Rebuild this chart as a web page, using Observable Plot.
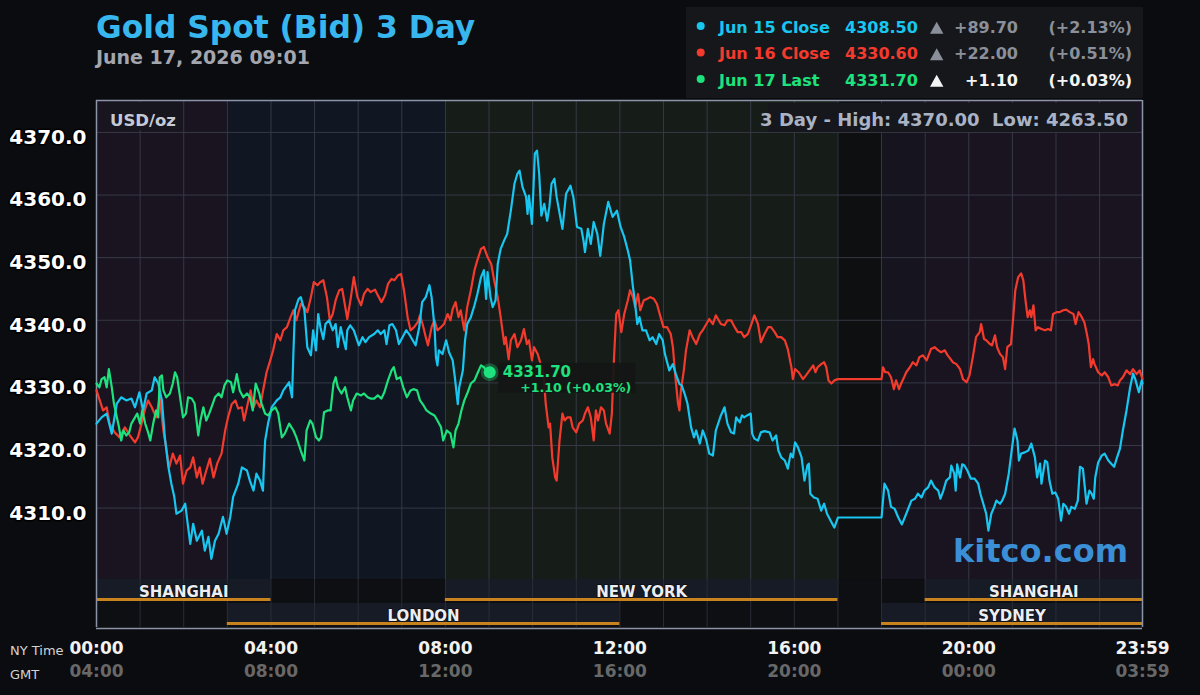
<!DOCTYPE html>
<html><head><meta charset="utf-8">
<script src="https://cdn.jsdelivr.net/npm/d3@7"></script>
<script src="https://cdn.jsdelivr.net/npm/@observablehq/plot@0.6"></script>
<style>
html,body{margin:0;padding:0;background:#0b0c0f;width:1200px;height:695px;overflow:hidden;font-family:"DejaVu Sans",sans-serif;}
#wrap{position:relative;width:1200px;height:695px;}
</style></head>
<body><div id="wrap"></div>
<script>
// ---------- DATA ----------
// [minute of NY day, price]
const jun15 = [[0,4323.5],[7,4324.5],[14,4325.1],[21,4321.9],[28,4326.7],[34,4327.7],[41,4327.2],[48,4327.5],[53,4326.1],[59,4328.5],[64,4325.6],[69,4328.3],[76,4328.8],[80,4330.9],[85,4329.9],[90,4327.2],[94,4321.3],[99,4316.5],[103,4313.9],[107,4311.8],[110,4309.1],[117,4309.6],[122,4310.7],[126,4307.0],[129,4304.3],[133,4307.5],[138,4304.8],[145,4306.4],[149,4303.2],[154,4305.4],[158,4301.9],[163,4304.8],[168,4305.9],[174,4308.6],[179,4305.9],[184,4308.6],[188,4311.8],[195,4313.9],[200,4316.5],[207,4316.0],[211,4314.4],[216,4312.8],[220,4315.5],[225,4314.4],[229,4312.8],[230,4316.0],[232,4320.8],[236,4323.5],[241,4326.1],[248,4327.2],[253,4327.7],[257,4328.8],[262,4329.6],[265,4330.1],[269,4327.7],[271,4335.2],[273,4341.6],[278,4343.4],
[281,4343.7],[286,4341.6],[290,4335.7],[295,4334.4],[298,4338.4],[302,4335.2],[305,4341.0],[308,4338.9],[312,4337.0],[315,4339.4],[320,4340.0],[325,4338.4],[329,4339.4],[332,4335.7],[336,4338.9],[340,4336.8],[343,4335.4],[345,4338.4],[349,4339.2],[354,4338.4],[361,4336.0],[366,4337.3],[370,4336.5],[375,4337.3],[382,4337.8],[387,4338.4],[391,4337.8],[396,4338.4],[399,4336.2],[403,4339.2],[407,4339.4],[412,4338.4],[416,4336.2],[421,4337.3],[426,4338.4],[430,4337.8],[435,4336.8],[439,4336.0],[444,4338.9],[448,4342.9],[453,4343.7],[458,4345.6],[461,4343.7],[465,4338.9],[467,4334.1],[469,4332.8],[471,4335.2],[476,4334.6],[481,4336.8],[485,4334.9],[490,4333.6],[493,4330.9],[497,4326.6],[499,4329.3],[504,4332.0],[507,4336.8],[510,4339.4],[515,4340.5],[520,4342.4],[524,4344.2],[529,4346.9],[533,4348.0],[536,4343.4],[538,4347.7],[542,4343.7],[545,4342.1],[549,4343.2],[552,4349.0],[556,4351.4],[561,4352.8],[565,4353.8],
[570,4357.5],[575,4361.8],[579,4363.4],[582,4363.9],[586,4361.3],[591,4359.7],[593,4357.0],[595,4359.9],[599,4355.4],[601,4360.7],[603,4366.6],[606,4367.1],[609,4363.4],[612,4356.7],[616,4358.6],[620,4355.9],[623,4358.1],[626,4361.8],[630,4362.6],[633,4359.7],[638,4356.5],[641,4354.6],[646,4360.2],[652,4361.5],[656,4359.7],[661,4354.9],[667,4354.6],[670,4352.7],[672,4350.9],[676,4354.6],[680,4352.2],[684,4355.7],[689,4353.8],[693,4350.3],[698,4355.4],[704,4358.9],[710,4356.5],[716,4357.5],[721,4354.9],[726,4353.3],[731,4351.1],[734,4349.6],[738,4345.3],[740,4343.7],[744,4339.4],[747,4340.5],[751,4338.4],[756,4338.4],[761,4336.8],[765,4337.3],[770,4336.2],[774,4337.8],[779,4336.8],[782,4334.6],[788,4332.0],[793,4333.0],[797,4331.4],[802,4329.8],[805,4329.6],[809,4328.3],[813,4326.7],[818,4322.9],[822,4321.3],[825,4322.4],[830,4320.3],[834,4322.4],[839,4320.8],[843,4318.7],[848,4318.4],[852,4322.4],
[859,4324.8],[864,4326.1],[868,4323.5],[873,4322.1],[877,4321.9],[880,4324.5],[885,4323.7],[888,4324.8],[891,4324.5],[895,4324.8],[900,4325.1],[902,4321.9],[905,4321.1],[910,4320.8],[914,4322.1],[919,4322.3],[926,4322.1],[930,4320.8],[935,4321.6],[938,4319.2],[942,4318.1],[947,4317.6],[951,4316.3],[955,4318.7],[958,4318.1],[961,4320.5],[965,4319.7],[970,4318.1],[974,4314.4],[978,4316.8],[980,4317.1],[982,4312.3],[987,4311.7],[992,4311.5],[997,4309.6],[1001,4310.7],[1005,4309.1],[1010,4308.0],[1015,4306.9],[1020,4308.5],[1080,4308.5],[1084,4313.9],[1089,4312.8],[1093,4310.2],[1098,4309.9],[1103,4308.5],[1108,4307.4],[1114,4309.1],[1121,4311.2],[1126,4311.5],[1130,4312.3],[1135,4311.7],[1139,4312.8],[1144,4313.3],
[1148,4314.4],[1153,4313.3],[1158,4312.8],[1161,4311.5],[1165,4312.8],[1169,4314.4],[1174,4314.9],[1176,4316.8],[1180,4315.5],[1182,4312.8],[1184,4317.0],[1188,4314.9],[1191,4317.0],[1194,4316.8],[1198,4316.0],[1203,4314.7],[1208,4314.7],[1213,4313.9],[1216,4312.3],[1220,4310.7],[1224,4309.1],[1227,4306.4],[1231,4309.1],[1235,4310.2],[1238,4311.2],[1243,4310.7],[1246,4311.2],[1250,4312.3],[1255,4315.5],[1259,4319.2],[1263,4322.7],[1267,4320.8],[1269,4317.6],[1272,4318.7],[1277,4318.9],[1282,4319.2],[1286,4320.3],[1291,4318.1],[1294,4314.9],[1298,4317.1],[1300,4313.9],[1305,4317.6],[1308,4317.3],[1311,4314.4],[1315,4312.3],[1319,4312.5],[1323,4311.5],[1327,4308.0],[1330,4310.7],[1334,4310.2],[1338,4309.1],[1341,4310.2],[1346,4309.9],[1350,4311.2],[1353,4316.6],[1357,4316.3],[1362,4310.7],[1366,4312.8],[1369,4312.3],[1372,4311.5],[1374,4314.9],[1378,4317.3],[1383,4318.4],[1387,4318.7],[1392,4317.6],[1396,4317.1],[1400,4316.6],[1404,4318.1],[1408,4319.5],[1412,4322.4],[1417,4325.6],[1422,4329.3],[1426,4331.5],[1429,4330.6],[1434,4328.5],[1438,4330.4],[1439,4329.9]];

const jun16 = [[0,4328.8],[9,4325.6],[14,4326.1],[18,4323.5],[25,4322.1],[32,4321.3],[39,4322.9],[46,4321.6],[53,4320.5],[57,4321.3],[62,4323.5],[67,4325.9],[71,4327.2],[76,4326.1],[82,4324.5],[87,4327.7],[92,4322.4],[95,4320.3],[100,4316.5],[105,4318.7],[110,4317.1],[115,4318.4],[119,4313.9],[124,4316.0],[129,4316.5],[133,4318.1],[138,4314.9],[142,4316.5],[146,4313.9],[151,4316.0],[156,4317.9],[161,4314.9],[166,4317.1],[172,4318.7],[177,4322.4],[181,4324.5],[186,4326.6],[191,4327.2],[195,4325.9],[200,4326.1],[203,4324.0],[207,4326.1],[212,4328.8],[216,4326.1],[220,4327.2],[225,4326.1],[230,4329.3],[234,4331.7],[239,4333.6],[243,4335.2],[248,4337.8],[253,4336.8],[257,4338.4],[262,4338.9],[267,4340.5],[271,4341.6],[275,4340.0],
[281,4342.6],[286,4342.1],[290,4341.3],[295,4343.7],[299,4346.1],[304,4345.6],[308,4346.1],[312,4346.4],[317,4343.7],[321,4340.0],[325,4341.0],[329,4343.2],[334,4344.8],[338,4345.0],[343,4341.6],[345,4340.2],[350,4343.7],[354,4346.9],[359,4343.7],[364,4342.4],[368,4344.2],[373,4345.0],[377,4344.5],[383,4344.9],[387,4344.0],[392,4342.9],[397,4344.0],[401,4345.8],[406,4346.6],[410,4346.4],[415,4347.2],[419,4347.4],[423,4344.8],[428,4340.5],[432,4338.4],[437,4338.9],[442,4339.7],[445,4340.8],[449,4339.2],[453,4337.3],[456,4336.0],[461,4338.9],[465,4340.0],[469,4338.4],[474,4338.9],[478,4339.4],[483,4341.0],[487,4340.0],[490,4341.8],[494,4342.9],[498,4340.5],[501,4341.6],[506,4338.4],[510,4342.1],[515,4344.8],[520,4348.0],[524,4349.6],[529,4351.4],[533,4351.7],[538,4350.1],[543,4349.0],[547,4346.4],[552,4343.7],[556,4340.5],[561,4336.2],[563,4337.3],[567,4333.8],
[570,4336.8],[575,4337.8],[579,4335.7],[584,4336.8],[588,4338.6],[592,4336.2],[595,4336.8],[599,4333.6],[602,4335.7],[607,4334.6],[611,4333.0],[615,4331.4],[618,4326.7],[622,4322.9],[624,4323.5],[627,4318.1],[631,4314.9],[633,4314.4],[637,4320.8],[641,4325.1],[644,4324.0],[648,4324.5],[652,4324.5],[655,4322.9],[660,4322.1],[664,4323.5],[669,4324.0],[672,4325.1],[676,4326.1],[680,4324.5],[684,4320.8],[687,4325.6],[690,4324.0],[694,4326.1],[698,4325.6],[701,4323.5],[706,4321.9],[709,4325.1],[712,4334.1],[715,4341.0],[718,4341.6],[722,4338.1],[726,4341.0],[731,4343.2],[734,4344.8],[738,4343.7],[741,4342.1],[745,4344.2],[748,4341.6],[753,4343.2],[757,4343.4],[762,4343.7],[767,4343.4],[771,4342.6],[776,4340.5],[780,4338.9],[785,4338.9],[790,4337.8],[793,4335.7],[796,4331.4],[800,4326.7],[802,4325.6],[804,4328.8],[808,4332.0],[811,4335.2],[816,4338.4],[820,4337.3],[825,4336.2],[830,4337.8],[834,4338.4],[839,4339.4],[843,4340.2],[848,4339.4],[852,4340.8],
[859,4339.4],[864,4339.2],[868,4340.0],[873,4340.0],[878,4338.9],[882,4338.1],[887,4338.1],[891,4337.3],[896,4337.8],[901,4339.4],[905,4340.8],[910,4339.4],[914,4336.5],[919,4337.8],[924,4338.9],[928,4338.9],[933,4338.1],[937,4337.3],[942,4337.3],[947,4336.8],[951,4335.4],[956,4332.5],[958,4330.6],[961,4332.2],[966,4331.7],[972,4330.6],[976,4331.2],[981,4332.0],[986,4332.8],[989,4331.7],[992,4332.5],[997,4333.0],[1001,4333.3],[1004,4332.5],[1007,4330.4],[1011,4329.9],[1015,4330.4],[1020,4330.6],[1080,4330.6],[1082,4332.5],[1085,4331.7],[1089,4331.7],[1093,4330.9],[1097,4329.0],[1100,4330.4],[1104,4329.0],[1107,4329.9],[1111,4330.9],[1114,4331.7],[1119,4332.5],[1123,4333.3],[1128,4332.8],[1132,4334.1],[1137,4334.4],[1142,4333.6],
[1148,4335.4],[1153,4335.7],[1158,4335.2],[1162,4334.9],[1167,4335.2],[1171,4334.4],[1175,4333.8],[1178,4333.3],[1183,4333.0],[1188,4332.2],[1192,4330.6],[1197,4330.1],[1201,4331.2],[1206,4334.4],[1210,4337.3],[1215,4338.1],[1217,4339.4],[1221,4337.0],[1224,4336.8],[1229,4336.2],[1232,4336.0],[1236,4337.6],[1239,4335.7],[1243,4334.6],[1247,4334.1],[1250,4332.2],[1253,4335.7],[1258,4336.2],[1261,4340.2],[1264,4344.8],[1268,4346.9],[1272,4347.5],[1275,4346.4],[1278,4343.2],[1281,4340.5],[1284,4341.6],[1286,4340.5],[1289,4342.4],[1292,4338.4],[1295,4338.9],[1300,4338.6],[1305,4338.4],[1309,4338.6],[1313,4338.4],[1316,4341.0],[1321,4341.3],[1325,4341.3],[1330,4341.6],[1334,4341.7],[1339,4341.3],[1344,4341.0],[1347,4339.4],[1351,4341.3],[1354,4340.8],[1359,4339.7],[1362,4338.1],[1365,4336.2],[1368,4332.5],[1371,4333.8],[1373,4333.0],[1378,4331.7],[1383,4331.2],[1387,4331.7],[1392,4330.9],[1396,4329.6],[1401,4329.8],[1405,4329.6],[1408,4330.4],[1412,4330.9],[1417,4332.0],[1422,4331.4],[1426,4332.2],[1431,4331.4],[1435,4332.0],[1439,4330.6]];

const jun17 = [[0,4329.9],[4,4329.3],[7,4330.6],[11,4330.9],[14,4329.3],[17,4332.2],[21,4329.3],[24,4326.7],[28,4324.5],[31,4322.9],[34,4320.8],[37,4322.4],[41,4321.6],[45,4322.1],[48,4323.5],[53,4324.5],[56,4325.1],[60,4323.5],[63,4325.6],[67,4323.5],[71,4322.1],[74,4320.8],[78,4323.5],[82,4325.6],[85,4324.5],[87,4330.9],[90,4331.2],[92,4328.8],[96,4327.7],[101,4328.3],[105,4329.9],[108,4331.7],[111,4330.9],[115,4327.7],[119,4324.5],[123,4325.1],[126,4327.7],[131,4327.5],[135,4326.7],[140,4321.6],[143,4324.0],[147,4326.1],[151,4324.0],[155,4325.1],[160,4326.7],[163,4327.7],[168,4328.3],[172,4327.7],[176,4329.6],[180,4330.4],[185,4330.1],[188,4328.5],[193,4331.4],[197,4328.8],[202,4327.7],[207,4328.3],[211,4327.7],[215,4325.6],[219,4329.9],[224,4328.3],[227,4326.7],[232,4325.1],[236,4324.8],[241,4325.6],[246,4326.1],[250,4325.1],[255,4321.3],[259,4321.9],[265,4323.5],[271,4322.4],[275,4321.3],
[281,4319.2],[286,4317.6],[289,4322.4],[294,4324.0],[297,4323.5],[302,4321.3],[306,4320.8],[309,4321.3],[313,4325.3],[318,4325.6],[322,4325.6],[326,4329.9],[329,4330.9],[332,4329.3],[337,4328.3],[342,4329.3],[345,4327.7],[350,4325.6],[353,4327.2],[358,4328.3],[364,4328.0],[368,4328.3],[373,4327.7],[377,4327.5],[382,4327.5],[387,4328.0],[392,4327.5],[396,4328.5],[401,4330.4],[406,4332.0],[409,4332.5],[413,4330.6],[418,4330.9],[422,4329.3],[427,4327.7],[432,4328.8],[436,4329.0],[441,4328.8],[445,4327.2],[450,4326.4],[454,4325.6],[460,4325.1],[465,4324.8],[469,4324.0],[474,4322.9],[477,4320.8],[482,4322.4],[487,4321.9],[491,4319.7],[494,4322.4],[498,4323.5],[502,4325.6],[506,4327.2],[510,4328.3],[515,4329.9],[520,4330.4],[524,4331.5],[529,4332.8],[533,4332.5],[536,4332.0],[541,4331.7]];

const yTicks = [4310, 4320, 4330, 4340, 4350, 4360, 4370];
const hourTicks = [60,120,180,240,300,360,420,480,540,600,660,720,780,840,900,960,1020,1080,1140,1200,1260,1320,1380];
const tickMinutes = [0, 240, 480, 720, 960, 1200, 1439];
const nyLabels  = ["00:00","04:00","08:00","12:00","16:00","20:00","23:59"];
const gmtLabels = ["04:00","08:00","12:00","16:00","20:00","00:00","03:59"];

const zoneStart = [0, 180, 480, 1020, 1080, 1140];
const zoneEnd   = [180, 480, 1020, 1080, 1140, 1439];
const zoneName  = ["asia", "london", "newyork", "closed", "sydney", "asia"];

const sessionNames = ["SHANGHAI", "LONDON", "NEW YORK", "SYDNEY", "SHANGHAI"];
const sessionStart = [0, 180, 480, 1080, 1140];
const sessionEnd   = [240, 720, 1020, 1439, 1439];
const sessionRow   = [1, 2, 1, 2, 1];

const legendLabels  = ["Jun 15 Close", "Jun 16 Close", "Jun 17 Last"];
const legendValues  = [4308.50, 4330.60, 4331.70];
const legendChanges = [89.70, 22.00, 1.10];
const legendPcts    = [2.13, 0.51, 0.03];
const threeDayHigh = 4370.00, threeDayLow = 4263.50;

// ---------- STYLE ----------
const FONT = "DejaVu Sans";
const BLUE = "#18c6f0", RED = "#f23b2d", GREEN = "#1de27d";
const seriesColors = [BLUE, RED, GREEN];
const gridColor = "#363945", frameColor = "#8c95a8";
const xDomain = [0, 1439];

const toPts = arr => arr.map(([t, p]) => ({t, p}));
const blue = toPts(jun15), red = toPts(jun16), green = toPts(jun17);
const last = green[green.length - 1];
const zones = zoneStart.map((s, i) => ({start: s, end: zoneEnd[i], zone: zoneName[i]}));
const sessions = sessionNames.map((n, i) => ({name: n, start: sessionStart[i], end: sessionEnd[i], row: sessionRow[i]}));
const timeTicks = tickMinutes.map((m, i) => ({m, ny: nyLabels[i], gmt: gmtLabels[i]}));

function lastQuoteLabel(index, scales) {
  const cx = scales.x(last.t), cy = scales.y(last.p);
  const g = d3.create("svg:g").attr("font-family", FONT).attr("font-weight", "bold").attr("text-anchor", "start");
  g.append("rect").attr("x", cx + 9).attr("y", cy - 9).attr("width", 137).attr("height", 30)
    .attr("fill", "#131615").attr("fill-opacity", 0.92);
  g.append("text").attr("x", cx + 13.5).attr("y", cy + 5.2).attr("font-size", 15).attr("fill", GREEN)
    .attr("text-anchor", "start").text(last.p.toFixed(2));
  g.append("text").attr("x", cx + 142).attr("y", cy + 20.5).attr("text-anchor", "end").attr("font-size", 12.5)
    .attr("fill", GREEN).text(`+${legendChanges[2].toFixed(2)} (+${legendPcts[2].toFixed(2)}%)`);
  return g.node();
}

const plotA = Plot.plot({
  width: 1200, height: 479,
  marginLeft: 96, marginRight: 58, marginTop: 0, marginBottom: 0,
  style: {background: "transparent", fontFamily: FONT, overflow: "visible", color: "white"},
  x: {domain: xDomain, axis: null},
  y: {domain: [4298.6, 4375.1], axis: null},
  color: {domain: ["asia", "london", "newyork", "closed", "sydney"],
          range: ["#1a1421", "#111623", "#161c18", "#0e0f11", "#15141f"]},
  marks: [
    Plot.rect(zones, {x1: "start", x2: "end", fill: "zone"}),
    Plot.ruleY(yTicks, {stroke: gridColor, strokeWidth: 1}),
    Plot.ruleX(hourTicks, {stroke: gridColor, strokeWidth: 1}),
    Plot.text(yTicks, {y: d => d, text: d => d.toFixed(1), frameAnchor: "left", textAnchor: "end",
      dx: -10, dy: 5, fontSize: 20, fontWeight: "bold", fill: "white",
      stroke: "#000", strokeWidth: 3, paintOrder: "stroke"}),
    Plot.ruleX(xDomain, {stroke: frameColor, strokeWidth: 1.5}),
    Plot.ruleY([4375.1], {stroke: frameColor, strokeWidth: 1.5}),
    Plot.line(red, {x: "t", y: "p", stroke: RED, strokeWidth: 2.2}),
    Plot.line(blue, {x: "t", y: "p", stroke: BLUE, strokeWidth: 2.2}),
    Plot.line(green, {x: "t", y: "p", stroke: GREEN, strokeWidth: 2.2}),
    Plot.dot([last], {x: "t", y: "p", r: 9, fill: GREEN, fillOpacity: 0.3}),
    Plot.dot([last], {x: "t", y: "p", r: 6, fill: GREEN}),
    lastQuoteLabel
  ]
});

const plotB = Plot.plot({
  width: 1200, height: 116,
  marginLeft: 96, marginRight: 58, marginTop: 0, marginBottom: 68,
  style: {background: "transparent", fontFamily: FONT, overflow: "visible", color: "white"},
  x: {domain: xDomain, axis: null},
  y: {domain: [0, 2], range: [0, 48], axis: null},
  marks: [
    Plot.frame({fill: "#0e0f13", stroke: "none"}),
    Plot.rect(sessions, {x1: "start", x2: "end", y1: d => d.row - 1, y2: "row", insetBottom: 2, fill: "#171b26"}),
    Plot.ruleX(hourTicks, {stroke: "#2a2d36"}),
    Plot.rect(sessions, {x1: "start", x2: "end", y1: d => d.row - 1, y2: "row", insetTop: 19, insetBottom: 2, fill: "#c8831f"}),
    Plot.text(sessions, {x: d => (d.start + d.end) / 2, y: d => d.row - 0.5, text: "name", dy: 1,
      fontSize: 15, fontWeight: "bold", fill: "#eceef2", stroke: "#0b0c10", strokeWidth: 1.5, paintOrder: "stroke"}),
    Plot.ruleX(xDomain, {stroke: frameColor, strokeWidth: 1.5}),
    Plot.ruleY([2], {stroke: frameColor, strokeWidth: 1.5, dy: 1}),
    Plot.text(timeTicks, {x: "m", text: "ny", frameAnchor: "bottom", dy: 26, fontSize: 17, fontWeight: "bold", fill: "#f2f2f2"}),
    Plot.text(timeTicks, {x: "m", text: "gmt", frameAnchor: "bottom", dy: 49.5, fontSize: 17, fontWeight: "bold", fill: "#686868"})
  ]
});

const wrap = document.getElementById("wrap");
plotA.style.position = "absolute"; plotA.style.left = "0px"; plotA.style.top = "100px";
plotB.style.position = "absolute"; plotB.style.left = "0px"; plotB.style.top = "579px";
wrap.appendChild(plotA);
wrap.appendChild(plotB);

// ---------- header & annotations ----------
const over = d3.select(wrap).append("svg").attr("width", 1200).attr("height", 695)
  .style("position", "absolute").style("left", "0px").style("top", "0px")
  .style("pointer-events", "none").attr("font-family", FONT);

over.append("text").attr("x", 96).attr("y", 37.5).attr("font-size", 31.3).attr("font-weight", "bold")
  .attr("fill", "#38b6ee").text("Gold Spot (Bid) 3 Day");
over.append("text").attr("x", 96).attr("y", 64).attr("font-size", 19).attr("font-weight", "bold")
  .attr("fill", "#a3a6ae").text("June 17, 2026 09:01");

over.append("rect").attr("x", 686).attr("y", 7).attr("width", 457).attr("height", 91).attr("fill", "#15171b");
const rowBase = [32.5, 59, 85.5];
legendLabels.forEach((lab, i) => {
  const b = rowBase[i], c = seriesColors[i];
  const muted = i < 2 ? "#8b8f99" : "#f4f4f4";
  over.append("circle").attr("cx", 700.7).attr("cy", b - 6.5).attr("r", 4).attr("fill", c);
  const g = over.append("g").attr("font-size", 16).attr("font-weight", "bold");
  g.append("text").attr("x", 719).attr("y", b).attr("fill", c).text(lab);
  g.append("text").attr("x", 845).attr("y", b).attr("fill", c).text(legendValues[i].toFixed(2));
  over.append("path").attr("d", `M930,${b + 1.2}L943.4,${b + 1.2}L936.7,${b - 10.8}Z`).attr("fill", muted);
  g.append("text").attr("x", 1018).attr("y", b).attr("text-anchor", "end").attr("fill", muted)
    .text("+" + legendChanges[i].toFixed(2));
  g.append("text").attr("x", 1132).attr("y", b).attr("text-anchor", "end").attr("fill", muted)
    .text(`(+${legendPcts[i].toFixed(2)}%)`);
});

over.append("rect").attr("x", 103).attr("y", 102).attr("width", 79).attr("height", 28).attr("fill", "#17151d");
over.append("text").attr("x", 110).attr("y", 125.5).attr("font-size", 16.5).attr("font-weight", "bold")
  .attr("fill", "#c5cad6").text("USD/oz");

over.append("rect").attr("x", 768).attr("y", 103).attr("width", 367).attr("height", 29).attr("fill", "#16171c");
over.append("text").attr("x", 1128).attr("y", 126).attr("text-anchor", "end").attr("font-size", 18)
  .attr("font-weight", "bold").attr("fill", "#aab3c5").attr("xml:space", "preserve").style("white-space", "pre")
  .text(`3 Day - High: ${threeDayHigh.toFixed(2)}  Low: ${threeDayLow.toFixed(2)}`);

over.append("text").attr("x", 1128).attr("y", 562).attr("text-anchor", "end").attr("font-size", 32)
  .attr("font-weight", "bold").attr("fill", "#3b8fd6").text("kitco.com");

over.append("text").attr("x", 10).attr("y", 655).attr("font-size", 13).attr("fill", "#d4d4d4").text("NY Time");
over.append("text").attr("x", 10).attr("y", 679).attr("font-size", 13).attr("fill", "#d4d4d4").text("GMT");
</script>
</body></html>
